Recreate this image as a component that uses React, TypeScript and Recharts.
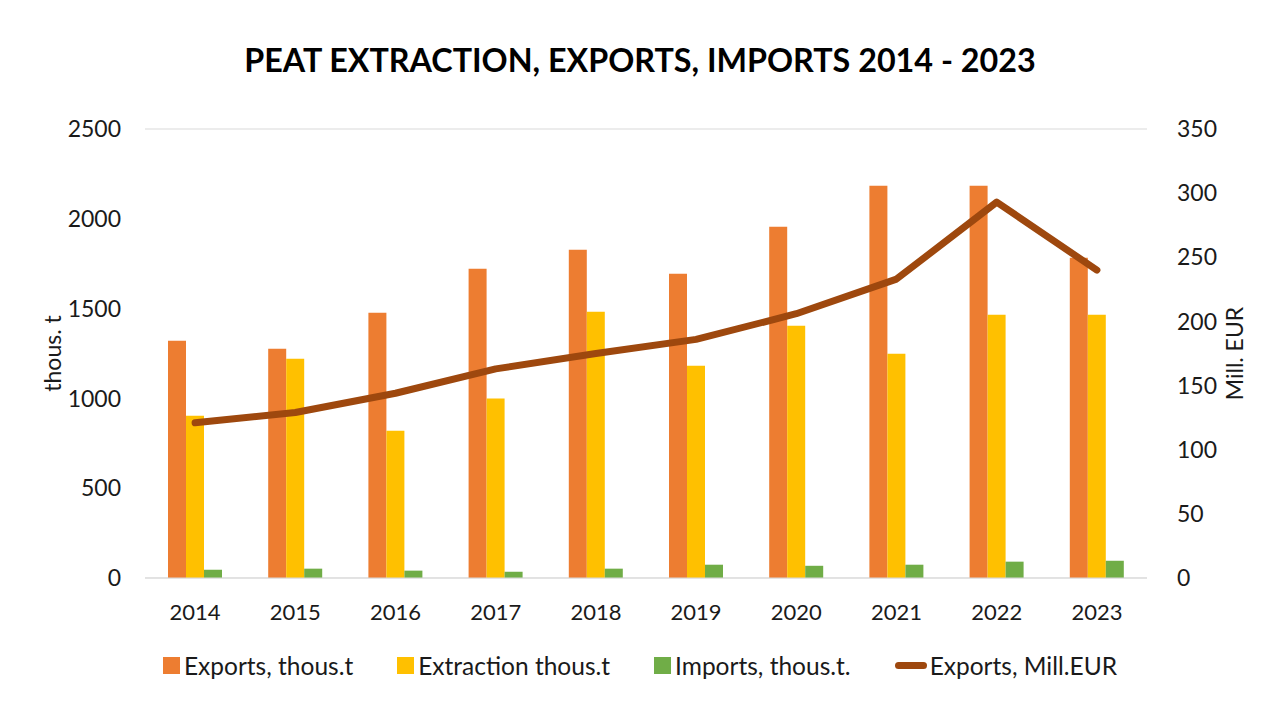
import {
  Bar,
  CartesianGrid,
  ComposedChart,
  Legend,
  Line,
  XAxis,
  YAxis,
} from 'recharts'

const years = ['2014', '2015', '2016', '2017', '2018', '2019', '2020', '2021', '2022', '2023']
const exportsTons = [1321, 1277, 1477, 1722, 1828, 1694, 1956, 2184, 2184, 1783]
const extractionTons = [904, 1221, 820, 1000, 1483, 1182, 1405, 1249, 1466, 1466]
const importsTons = [46, 52, 41, 35, 52, 74, 68, 74, 91, 96]
const exportsEur = [121, 129, 144, 163, 175, 186, 206, 233, 293, 240]

const leftTicks = [0, 500, 1000, 1500, 2000, 2500]
const rightTicks = [0, 50, 100, 150, 200, 250, 300, 350]

const data = years.map((year, i) => ({
  year,
  exportsTons: exportsTons[i],
  extractionTons: extractionTons[i],
  importsTons: importsTons[i],
  exportsEur: exportsEur[i],
}))

const FONT = 'Lato, "Open Sans", sans-serif'
const TEXT = '#1a1a1a'

const legendItems = [
  { label: 'Exports, thous.t', color: '#ED7D31', line: false },
  { label: 'Extraction thous.t', color: '#FFC000', line: false },
  { label: 'Imports, thous.t.', color: '#70AD47', line: false },
  { label: 'Exports, Mill.EUR', color: '#9E480E', line: true },
]

function ChartLegend() {
  return (
    <div
      style={{
        display: 'flex',
        justifyContent: 'center',
        alignItems: 'center',
        gap: 44,
        height: 30,
        fontFamily: FONT,
        fontSize: 24.5,
        color: TEXT,
      }}
    >
      {legendItems.map((item) => (
        <div key={item.label} style={{ display: 'flex', alignItems: 'center' }}>
          {item.line ? (
            <span
              style={{
                width: 32,
                height: 7,
                borderRadius: 4,
                background: item.color,
                marginRight: 3,
              }}
            />
          ) : (
            <span style={{ width: 17, height: 17, background: item.color, marginRight: 4 }} />
          )}
          <span>{item.label}</span>
        </div>
      ))}
    </div>
  )
}

export default function App() {
  return (
    <div style={{ position: 'relative', width: 1280, height: 720, background: '#fff' }}>
      <style>{'body { margin: 0; }'}</style>
      <div
        style={{
          position: 'absolute',
          top: 40,
          left: 0,
          width: 1280,
          textAlign: 'center',
          fontFamily: FONT,
          fontWeight: 'bold',
          fontSize: 32.3,
          color: '#000',
        }}
      >
        PEAT EXTRACTION, EXPORTS, IMPORTS 2014 - 2023
      </div>
      <ComposedChart
        width={1280}
        height={720}
        data={data}
        margin={{ top: 129, right: 0, bottom: 62, left: 0 }}
        barGap={0}
        barCategoryGap="23%"
        style={{ position: 'absolute', top: 0, left: 0 }}
      >
        <CartesianGrid vertical={false} stroke="#d9d9d9" />
        <XAxis
          dataKey="year"
          height={50}
          tickLine={false}
          axisLine={{ stroke: '#d9d9d9' }}
          tickMargin={20}
          tick={{ fontSize: 22, fill: TEXT, fontFamily: FONT }}
        />
        <YAxis
          yAxisId="left"
          width={145}
          domain={[0, 2500]}
          ticks={leftTicks}
          axisLine={false}
          tickLine={false}
          tickSize={0}
          tickMargin={24}
          tick={{ fontSize: 23, fill: TEXT, fontFamily: FONT }}
          label={{
            value: 'thous. t',
            angle: -90,
            position: 'center',
            dx: -20,
            style: { fontSize: 23, fill: TEXT, fontFamily: FONT },
          }}
        />
        <YAxis
          yAxisId="right"
          orientation="right"
          width={133}
          domain={[0, 350]}
          ticks={rightTicks}
          axisLine={false}
          tickLine={false}
          tickSize={0}
          tickMargin={30}
          tick={{ fontSize: 23, fill: TEXT, fontFamily: FONT }}
          label={{
            value: 'Mill. EUR',
            angle: -90,
            position: 'center',
            dx: 21,
            style: { fontSize: 23, fill: TEXT, fontFamily: FONT },
          }}
        />
        <Legend
          verticalAlign="bottom"
          content={() => <ChartLegend />}
          wrapperStyle={{ bottom: 40 }}
        />
        <Bar
          yAxisId="left"
          dataKey="exportsTons"
          name="Exports, thous.t"
          fill="#ED7D31"
          barSize={18}
          isAnimationActive={false}
        />
        <Bar
          yAxisId="left"
          dataKey="extractionTons"
          name="Extraction thous.t"
          fill="#FFC000"
          barSize={18}
          isAnimationActive={false}
        />
        <Bar
          yAxisId="left"
          dataKey="importsTons"
          name="Imports, thous.t."
          fill="#70AD47"
          barSize={18}
          isAnimationActive={false}
        />
        <Line
          yAxisId="right"
          dataKey="exportsEur"
          name="Exports, Mill.EUR"
          stroke="#9E480E"
          strokeWidth={7}
          strokeLinecap="round"
          strokeLinejoin="round"
          dot={false}
          activeDot={false}
          isAnimationActive={false}
        />
      </ComposedChart>
    </div>
  )
}
